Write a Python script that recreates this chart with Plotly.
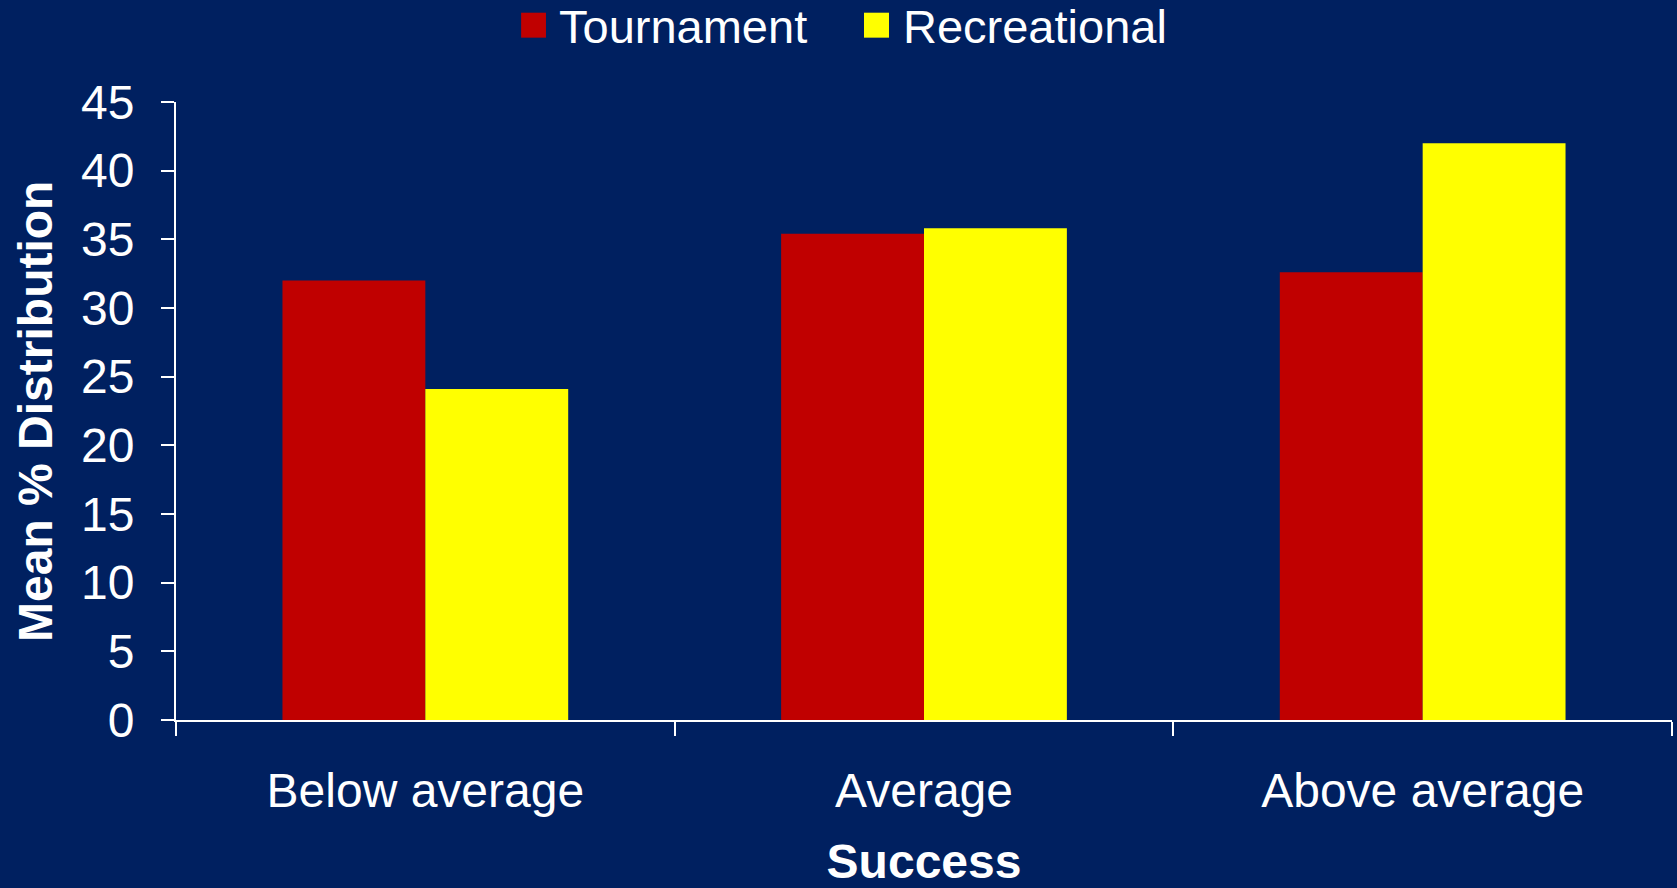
import plotly.graph_objects as go

categories = ["Below average", "Average", "Above average"]
series_names = ["Tournament", "Recreational"]
tournament = [32.0, 35.4, 32.6]
recreational = [24.1, 35.8, 42.0]
y_ticks = [0, 5, 10, 15, 20, 25, 30, 35, 40, 45]
x_title = "Success"
y_title = "Mean % Distribution"

BG = "#002060"
RED = "#C00000"
YELLOW = "#FFFF00"
FONT = "Liberation Sans, Arial, sans-serif"

fig = go.Figure()
fig.add_trace(go.Bar(x=categories, y=tournament, name=series_names[0],
                     marker=dict(color=RED, line=dict(width=0)), showlegend=False))
fig.add_trace(go.Bar(x=categories, y=recreational, name=series_names[1],
                     marker=dict(color=YELLOW, line=dict(width=0)), showlegend=False))

# manual legend (large square swatches like the original)
legend_items = [
    (series_names[0], RED, 0.2307, 0.2473, 0.2547),
    (series_names[1], YELLOW, 0.4599, 0.4766, 0.4846),
]
for name, col, x0, x1, xt in legend_items:
    fig.add_shape(type="rect", xref="paper", yref="paper", x0=x0, x1=x1,
                  y0=1.1041, y1=1.1445, fillcolor=col, line=dict(width=0))
    fig.add_annotation(xref="paper", yref="paper", x=xt, y=1.1215, text=name,
                       showarrow=False, xanchor="left", yanchor="middle",
                       font=dict(family=FONT, size=47, color="white"))

# y-axis title, placed precisely
fig.add_annotation(xref="paper", yref="paper", x=-0.0943, y=0.5, text="<b>" + y_title + "</b>",
                   textangle=-90, showarrow=False, xanchor="center", yanchor="middle",
                   font=dict(family=FONT, size=48, color="white"))

fig.update_layout(
    width=1677, height=888,
    margin=dict(l=176, r=5, t=102, b=168),
    paper_bgcolor=BG, plot_bgcolor=BG,
    barmode="group", bargap=0.427, bargroupgap=0,
    font=dict(family=FONT, color="white", size=48),
)
fig.update_xaxes(
    showline=True, linecolor="white", linewidth=2,
    ticks="outside", tickson="boundaries", ticklen=14, tickcolor="white", tickwidth=2,
    tickfont=dict(family=FONT, size=48, color="white"),
    ticklabelstandoff=27,
    showgrid=False, zeroline=False,
    title=dict(text="<b>" + x_title + "</b>", font=dict(family=FONT, size=48, color="white"), standoff=33),
)
fig.update_yaxes(
    range=[0, 45], tickvals=y_ticks,
    showline=True, linecolor="white", linewidth=2,
    ticks="outside", ticklen=13, tickcolor="white", tickwidth=2,
    tickfont=dict(family=FONT, size=48, color="white"),
    ticklabelstandoff=17,
    showgrid=False, zeroline=False,
)

fig.write_html("out.html", config={"displayModeBar": False},
               post_script="document.body.style.margin='0';document.body.style.background='#002060';")
